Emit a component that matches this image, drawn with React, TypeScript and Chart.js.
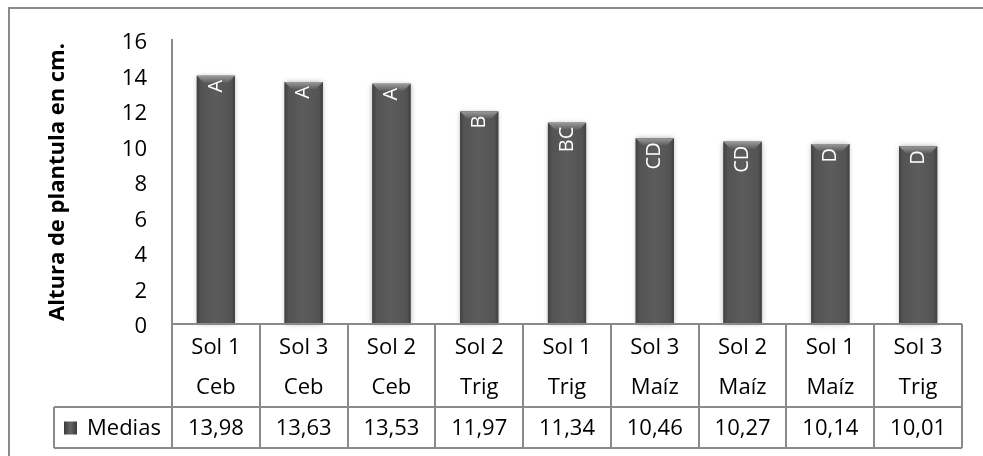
import React, { useEffect, useRef } from "react";
import { Chart, registerables } from "chart.js";

Chart.register(...registerables);

// Two-line treatment names shown under each bar
const categories: string[][] = [
  ["Sol 1", "Ceb"],
  ["Sol 3", "Ceb"],
  ["Sol 2", "Ceb"],
  ["Sol 2", "Trig"],
  ["Sol 1", "Trig"],
  ["Sol 3", "Maíz"],
  ["Sol 2", "Maíz"],
  ["Sol 1", "Maíz"],
  ["Sol 3", "Trig"],
];

// Mean seedling height (cm)
const medias: number[] = [13.98, 13.63, 13.53, 11.97, 11.34, 10.46, 10.27, 10.14, 10.01];

// Significance letters written inside each bar
const letras: string[] = ["A", "A", "A", "B", "BC", "CD", "CD", "D", "D"];

const seriesName = "Medias";
const yTitle = "Altura de plantula en cm.";

const FONT = "'Open Sans', 'Noto Sans', sans-serif";
const LINE = "#8a8a8a";

const fmt = (v: number) => v.toFixed(2).replace(".", ",");

// Outer frame around the whole chart
const framePlugin = {
  id: "frame",
  beforeDraw(chart: any) {
    const { ctx } = chart;
    ctx.save();
    ctx.fillStyle = "#ffffff";
    ctx.fillRect(0, 0, chart.width, chart.height);
    ctx.strokeStyle = LINE;
    ctx.lineWidth = 2;
    ctx.strokeRect(9, 8, chart.width + 20, chart.height + 20);
    ctx.restore();
  },
};

// Cylinder-like shading, bevelled tops and rotated letters on the bars
const barStylePlugin = {
  id: "barStyle",
  afterDatasetsDraw(chart: any) {
    const { ctx } = chart;
    const meta = chart.getDatasetMeta(0);
    meta.data.forEach((bar: any, i: number) => {
      const w = bar.width;
      const left = bar.x - w / 2;
      const top = bar.y;
      const h = bar.base - bar.y;

      ctx.save();
      ctx.shadowColor = "rgba(0,0,0,0.3)";
      ctx.shadowBlur = 5;
      const g = ctx.createLinearGradient(left, 0, left + w, 0);
      g.addColorStop(0, "#404040");
      g.addColorStop(0.1, "#535353");
      g.addColorStop(0.5, "#5c5c5c");
      g.addColorStop(0.9, "#535353");
      g.addColorStop(1, "#404040");
      ctx.fillStyle = g;
      ctx.fillRect(left, top, w, h);
      ctx.restore();

      // bevel on the top edge
      ctx.save();
      const bev = 7;
      const gv = ctx.createLinearGradient(0, top, 0, top + bev);
      gv.addColorStop(0, "#9a9a9a");
      gv.addColorStop(1, "#5e5e5e");
      ctx.fillStyle = gv;
      ctx.beginPath();
      ctx.moveTo(left, top);
      ctx.lineTo(left + w, top);
      ctx.lineTo(left + w - bev, top + bev);
      ctx.lineTo(left + bev, top + bev);
      ctx.closePath();
      ctx.fill();
      ctx.restore();

      // letter, reading bottom to top
      ctx.save();
      ctx.translate(bar.x, top + 4);
      ctx.rotate(-Math.PI / 2);
      ctx.fillStyle = "#ffffff";
      ctx.font = `20px ${FONT}`;
      ctx.textAlign = "right";
      ctx.textBaseline = "middle";
      ctx.fillText(letras[i], 0, 0);
      ctx.restore();
    });
  },
};

// Data table under the plot: grid lines, legend key and the values row
const dataTablePlugin = {
  id: "dataTable",
  afterDraw(chart: any) {
    const { ctx } = chart;
    const xs = chart.scales.x;
    const n = categories.length;
    const step = xs.width / n;
    const top = chart.chartArea.bottom;
    const rowDiv = top + 83;
    const bottom = top + 124;
    const keyLeft = 54;
    const x0 = xs.left;
    const x1 = xs.right;

    ctx.save();
    ctx.strokeStyle = LINE;
    ctx.lineWidth = 2;
    ctx.beginPath();
    ctx.moveTo(x0, top);
    ctx.lineTo(x1, top);
    ctx.moveTo(keyLeft, rowDiv);
    ctx.lineTo(x1, rowDiv);
    ctx.moveTo(keyLeft, bottom);
    ctx.lineTo(x1, bottom);
    ctx.moveTo(keyLeft, rowDiv);
    ctx.lineTo(keyLeft, bottom);
    for (let i = 0; i <= n; i++) {
      const x = Math.round(x0 + i * step);
      ctx.moveTo(x, top);
      ctx.lineTo(x, bottom);
    }
    ctx.stroke();

    const midY = (rowDiv + bottom) / 2 + 1;
    ctx.font = `22px ${FONT}`;
    ctx.fillStyle = "#000000";
    ctx.textBaseline = "middle";
    ctx.textAlign = "center";
    medias.forEach((v, i) => {
      ctx.fillText(fmt(v), xs.getPixelForValue(i), midY);
    });

    // legend key
    const kg = ctx.createLinearGradient(64, 0, 77, 0);
    kg.addColorStop(0, "#3a3a3a");
    kg.addColorStop(0.5, "#666666");
    kg.addColorStop(1, "#3a3a3a");
    ctx.fillStyle = kg;
    ctx.fillRect(64, midY - 7, 13, 13);
    ctx.fillStyle = "#000000";
    ctx.textAlign = "left";
    ctx.fillText(seriesName, 87, midY);
    ctx.restore();
  },
};

export default function App() {
  const canvasRef = useRef<HTMLCanvasElement | null>(null);

  useEffect(() => {
    document.body.style.margin = "0";
    const canvas = canvasRef.current;
    if (!canvas) return;
    const chart = new Chart(canvas, {
      type: "bar",
      data: {
        labels: categories,
        datasets: [
          {
            label: seriesName,
            data: medias,
            backgroundColor: "#525252",
            borderWidth: 0,
            categoryPercentage: 1,
            barPercentage: 0.435,
          },
        ],
      },
      options: {
        responsive: false,
        animation: false,
        events: [],
        layout: { padding: { top: 40, right: 21, bottom: 8, left: 10 } },
        plugins: {
          legend: { display: false },
          tooltip: { enabled: false },
        },
        scales: {
          x: {
            grid: { display: false, drawTicks: false },
            border: { display: false },
            ticks: {
              autoSkip: false,
              maxRotation: 0,
              minRotation: 0,
              padding: 4,
              color: "#000000",
              font: { family: FONT, size: 22, lineHeight: 40 / 22 },
            },
            afterFit: (scale: any) => {
              scale.height = 124;
            },
          },
          y: {
            min: 0,
            max: 16,
            grid: { display: false, drawTicks: false },
            border: { display: true, color: LINE, width: 2 },
            ticks: {
              stepSize: 2,
              padding: 25,
              labelOffset: 3,
              color: "#000000",
              font: { family: FONT, size: 22 },
            },
            title: {
              display: true,
              text: yTitle,
              color: "#000000",
              padding: { top: 35, bottom: 0 },
              font: { family: FONT, size: 22, weight: "bold" },
            },
            afterFit: (scale: any) => {
              scale.width = 162;
            },
          },
        },
      },
      plugins: [framePlugin, barStylePlugin, dataTablePlugin],
    });
    return () => chart.destroy();
  }, []);

  return (
    <div style={{ width: 983, height: 456 }}>
      <canvas ref={canvasRef} width={983} height={456} style={{ display: "block" }} />
    </div>
  );
}
